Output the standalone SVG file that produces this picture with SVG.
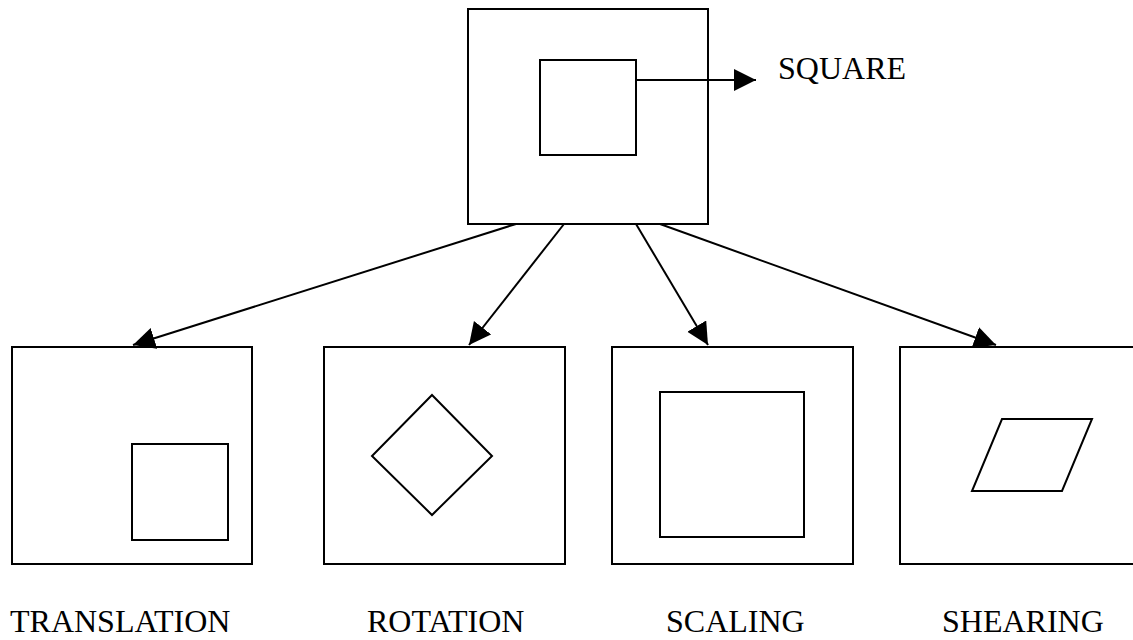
<svg xmlns="http://www.w3.org/2000/svg" width="1133" height="640" viewBox="0 0 1133 640">
<defs>
<style>
.box{fill:#fff;stroke:#000;stroke-width:2}
.shape{fill:none;stroke:#000;stroke-width:2;stroke-linejoin:miter}
.conn{fill:none;stroke:#000;stroke-width:2}
.lbl{font-family:"Liberation Serif","Times New Roman",serif;font-size:32px;fill:#000}
</style>
<marker id="ah" markerUnits="userSpaceOnUse" markerWidth="24" markerHeight="24" refX="22" refY="11" orient="auto" viewBox="0 0 24 24">
<path d="M0,0 L22,11 L0,22 z" fill="#000"/>
</marker>
</defs>
<rect width="1133" height="640" fill="#fff"/>
<g id="square-node">
<rect class="box" x="468" y="9" width="240" height="215"/>
<rect class="shape" x="540" y="60" width="96" height="95"/>
</g>
<g id="square-label">
<text class="lbl" x="778" y="79">SQUARE</text>
</g>
<g id="translation">
<rect class="box" x="12" y="347" width="240" height="217"/>
<rect class="shape" x="132" y="444" width="96" height="96"/>
<text class="lbl" x="10" y="632">TRANSLATION</text>
</g>
<g id="rotation">
<rect class="box" x="324" y="347" width="241" height="217"/>
<polygon class="shape" points="432,395 492,456 432,515 372,456"/>
<text class="lbl" x="367" y="632">ROTATION</text>
</g>
<g id="scaling">
<rect class="box" x="612" y="347" width="241" height="217"/>
<rect class="shape" x="660" y="392" width="144" height="145"/>
<text class="lbl" x="666" y="632">SCALING</text>
</g>
<g id="shearing">
<rect class="box" x="900" y="347" width="241" height="217"/>
<polygon class="shape" points="1002,419 1092,419 1062,491 972,491"/>
<text class="lbl" x="942" y="632">SHEARING</text>
</g>
<g id="connectors">
<line class="conn" x1="636" y1="80" x2="756" y2="80" marker-end="url(#ah)"/>
<line class="conn" x1="516" y1="224" x2="133" y2="345" marker-end="url(#ah)"/>
<line class="conn" x1="564" y1="224" x2="469" y2="345" marker-end="url(#ah)"/>
<line class="conn" x1="636" y1="224" x2="708" y2="345" marker-end="url(#ah)"/>
<line class="conn" x1="660" y1="224" x2="996" y2="345" marker-end="url(#ah)"/>
</g>
</svg>
